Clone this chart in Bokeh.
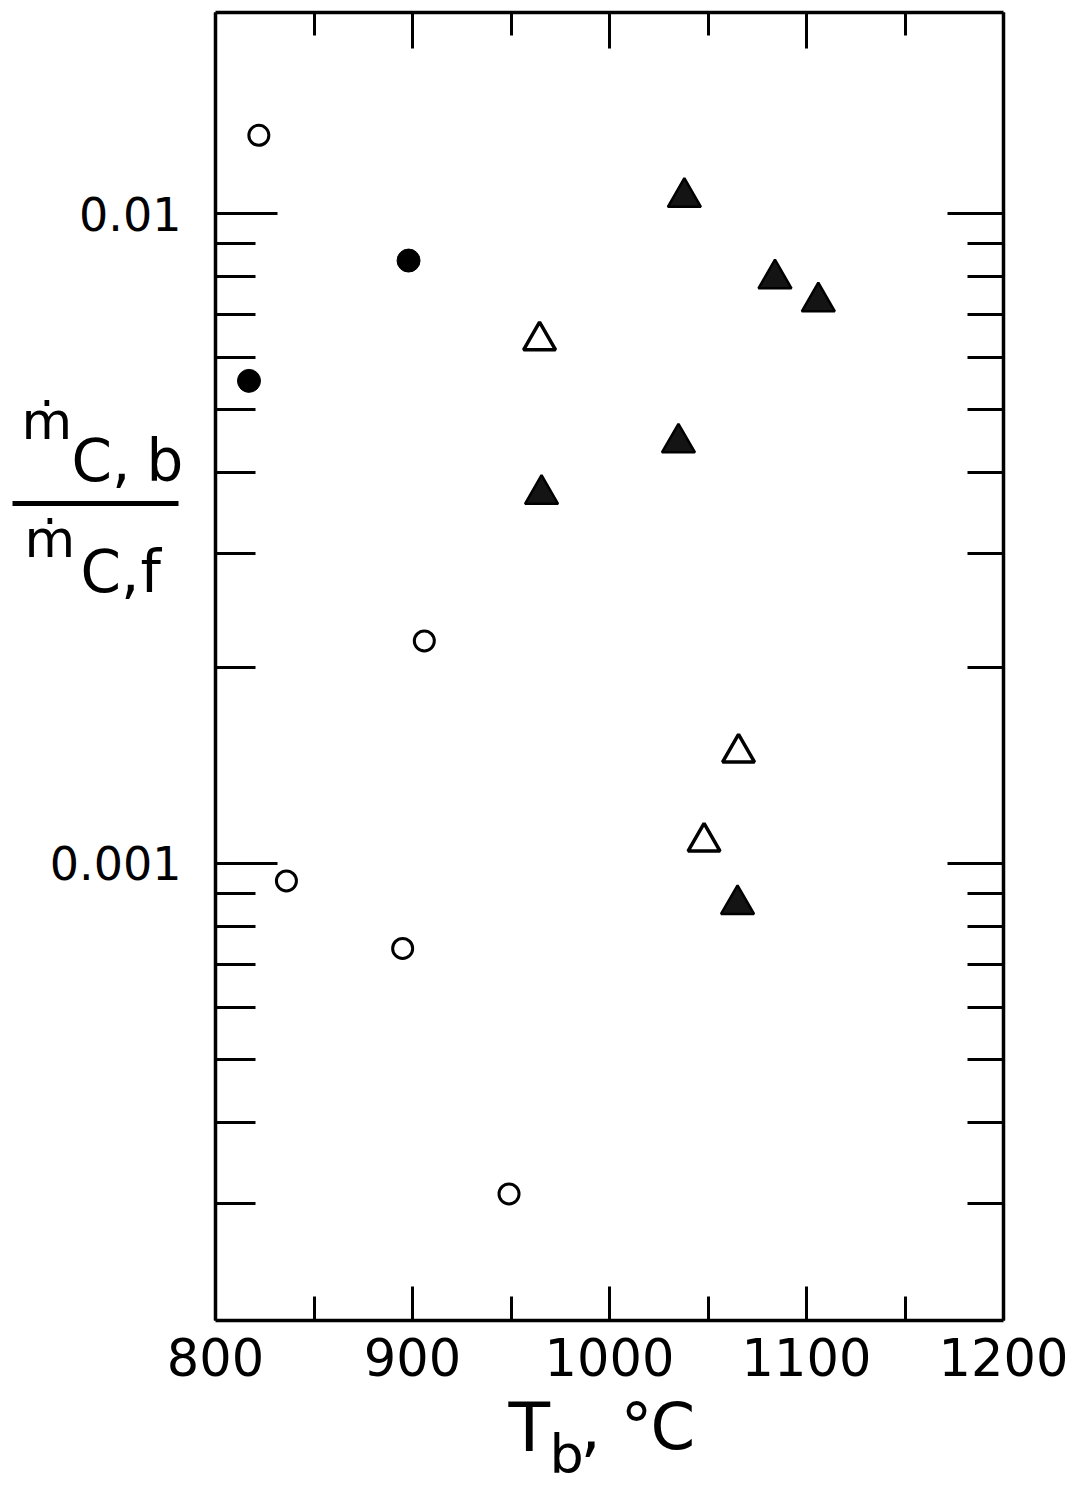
import math

from bokeh.core.properties import value
from bokeh.embed import file_html
from bokeh.models import ColumnDataSource, FixedTicker, LinearAxis, LogAxis, Range1d
from bokeh.plotting import figure
from bokeh.resources import INLINE

# Burner temperature T_b (deg C) and carbon flow ratio m_C,b / m_C,f
open_circle_T = [822, 836, 895, 906, 949]
open_circle_ratio = [0.0132, 0.00094, 0.00074, 0.0022, 0.00031]

solid_circle_T = [817, 898]
solid_circle_ratio = [0.00553, 0.00847]

open_triangle_T = [964.5, 1065.5, 1048]
open_triangle_ratio = [0.00638, 0.00148, 0.00108]

solid_triangle_T = [1038, 1084, 1106, 1035, 965.5, 1065]
solid_triangle_ratio = [0.0106, 0.00794, 0.00732, 0.00444, 0.0037, 0.000865]

# Axis ticks and their labels
x_major = [800, 900, 1000, 1100, 1200]
x_minor = [850, 950, 1050, 1150]
x_labels = ["800", "900", "1000", "1100", "1200"]

y_major = [0.001, 0.01]
y_minor = [0.0003, 0.0004, 0.0005, 0.0006, 0.0007, 0.0008, 0.0009,
           0.002, 0.003, 0.004, 0.005, 0.006, 0.007, 0.008, 0.009]
y_labels = ["0.001", "0.01"]

X_RANGE = (800, 1200)
Y_RANGE = (0.000198, 0.0204)

W, H = 1070, 1489
FL, FR, FT, FB = 215, 1003, 12, 1320  # frame edges in pixels

FONT = "DejaVu Sans"
INK = "black"

p = figure(width=W, height=H, output_backend="svg", toolbar_location=None,
           x_axis_location=None, y_axis_location=None, y_axis_type="log",
           x_range=Range1d(*X_RANGE), y_range=Range1d(*Y_RANGE),
           min_border_left=FL, min_border_right=W - FR,
           min_border_top=FT, min_border_bottom=H - FB)
p.outline_line_color = None
p.background_fill_color = "white"
p.border_fill_color = "white"
p.xgrid.visible = False
p.ygrid.visible = False


def style_axis(ax, major_in, minor_in, label_size=None, standoff=0):
    ax.axis_line_color = INK
    ax.axis_line_width = 3.5
    ax.major_tick_line_color = INK
    ax.minor_tick_line_color = INK
    ax.major_tick_line_width = 3
    ax.minor_tick_line_width = 3
    ax.major_tick_in = major_in
    ax.major_tick_out = 0
    ax.minor_tick_in = minor_in
    ax.minor_tick_out = 0
    ax.major_label_standoff = standoff
    ax.major_label_text_font = FONT
    ax.major_label_text_color = INK
    if label_size:
        ax.major_label_text_font_size = f"{label_size}px"


y_ticker = FixedTicker(ticks=y_major, minor_ticks=y_minor)
x_ticker = FixedTicker(ticks=x_major, minor_ticks=x_minor)

left = LogAxis(ticker=y_ticker,
               major_label_overrides=dict(zip(y_major, y_labels)))
style_axis(left, 62, 40, 46, 34)
p.add_layout(left, "left")

# mirrored tick marks on the right and top edges carry no labels
right = LogAxis(ticker=y_ticker,
                major_label_overrides={t: "" for t in y_major})
style_axis(right, 56, 36)
p.add_layout(right, "right")

bottom = LinearAxis(ticker=x_ticker,
                    major_label_overrides=dict(zip(x_major, x_labels)))
style_axis(bottom, 34, 24, 51, 17)
p.add_layout(bottom, "below")

top = LinearAxis(ticker=x_ticker,
                 major_label_overrides={t: "" for t in x_major})
style_axis(top, 36, 23)
p.add_layout(top, "above")

# Data markers
p.scatter(open_circle_T, open_circle_ratio, marker="circle", size=20,
          fill_color=None, line_color=INK, line_width=3)
p.scatter(solid_circle_T, solid_circle_ratio, marker="circle", size=23,
          fill_color=INK, line_color=INK, line_width=1)
p.scatter(open_triangle_T, open_triangle_ratio, marker="triangle", size=32,
          fill_color=None, line_color=INK, line_width=3.5)
p.scatter(solid_triangle_T, solid_triangle_ratio, marker="triangle", size=33,
          fill_color="#141414", line_color=INK, line_width=2.5)


# Axis titles sit in the margins; their places are given in canvas pixels
def xd(px):
    return X_RANGE[0] + (px - FL) * (X_RANGE[1] - X_RANGE[0]) / (FR - FL)


def yd(py):
    l0, l1 = math.log10(Y_RANGE[0]), math.log10(Y_RANGE[1])
    return 10 ** (l1 - (py - FT) * (l1 - l0) / (FB - FT))


BASELINE_LIFT = 0.37  # alphabetic baseline offset of the svg text, in em

title_parts = [
    # y title: mass flow fraction, numerator then denominator
    ("\u1e41", 21, 440, 52),
    ("C,", 71, 482, 58),
    ("b", 146, 482, 58),
    ("\u1e41", 24, 558, 52),
    ("C,", 80, 593, 58),
    ("f", 140, 593, 58),
    # x title
    ("T", 508, 1452, 68),
    ("b", 549, 1474, 54),
    (",", 580, 1450, 64),
    ("\u00b0", 620, 1450, 64),
    ("C", 650, 1450, 64),
]
titles = ColumnDataSource(dict(
    x=[xd(t[1]) for t in title_parts],
    y=[yd(t[2] - BASELINE_LIFT * t[3]) for t in title_parts],
    text=[t[0] for t in title_parts],
    size=[f"{t[3]}px" for t in title_parts],
))
p.text(x="x", y="y", text="text", source=titles, text_font=value(FONT),
       text_font_size="size", text_color=INK, text_align="left",
       text_baseline="alphabetic", level="overlay")

# fraction bar of the y title
p.segment(x0=[xd(12)], y0=[yd(503)], x1=[xd(178)], y1=[yd(503)],
          line_color=INK, line_width=5, level="overlay")

open("out.html", "w").write(file_html(p, INLINE))
